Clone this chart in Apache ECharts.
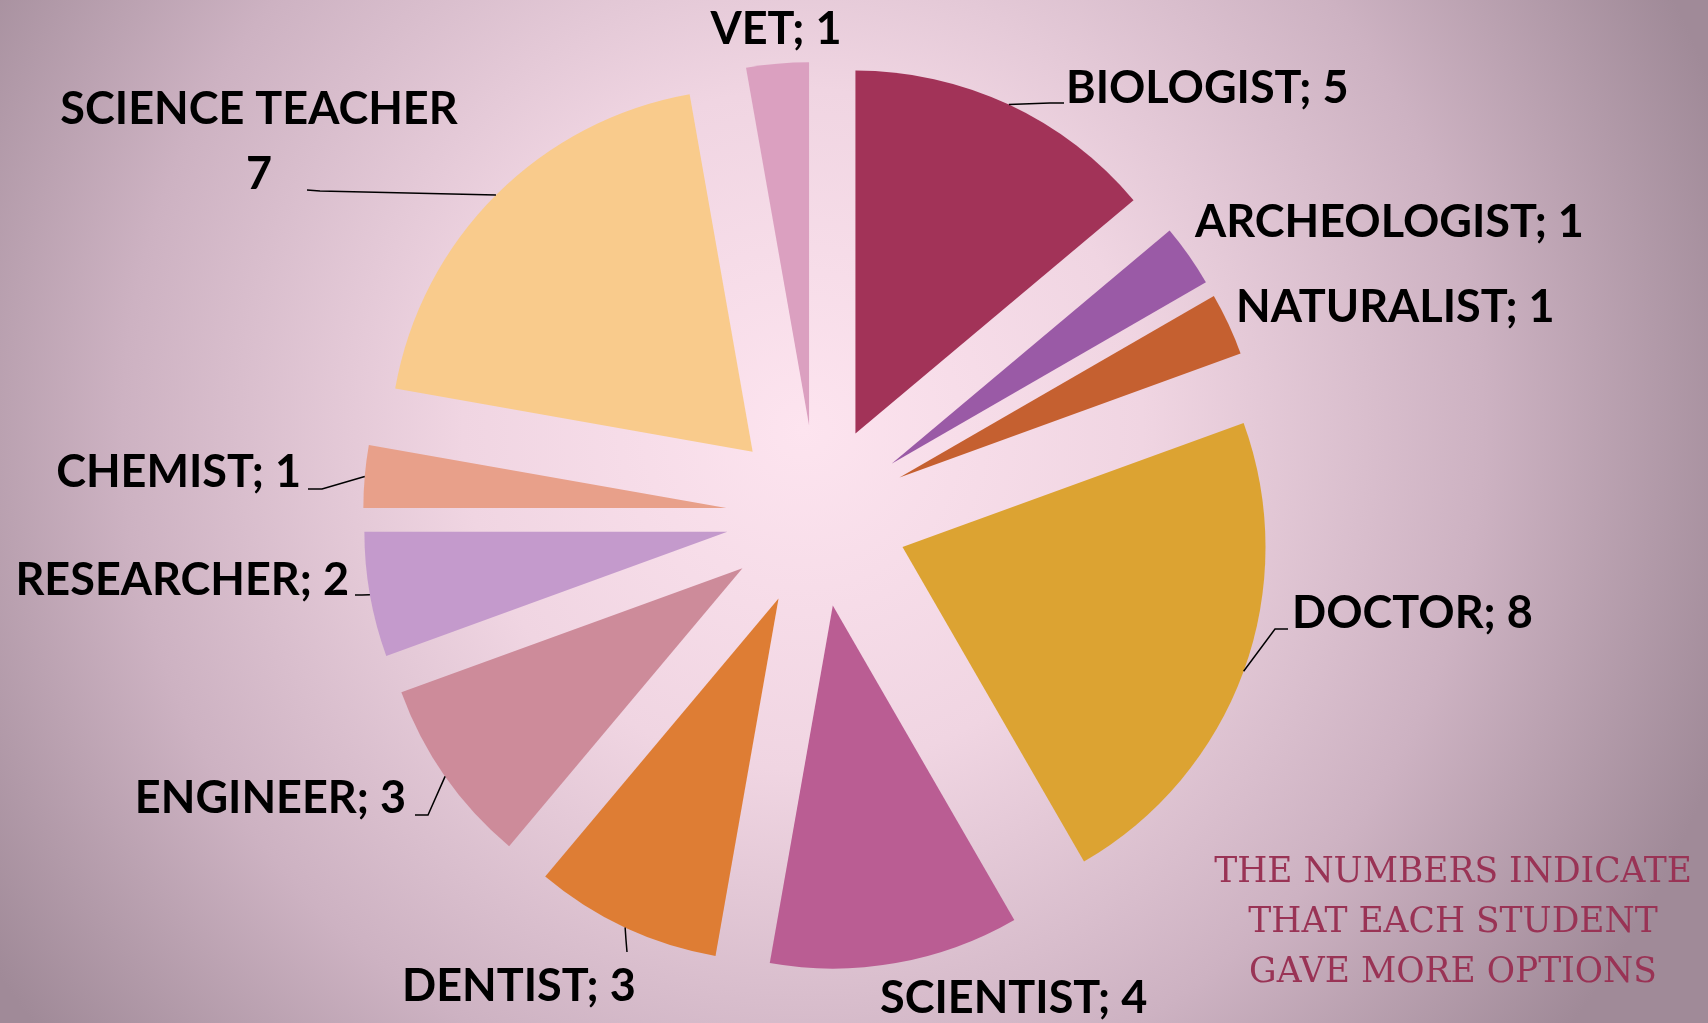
<!DOCTYPE html>
<html>
<head>
<meta charset="utf-8">
<script src="https://cdn.jsdelivr.net/npm/echarts@6/dist/echarts.min.js"></script>
<style>
    html, body { margin: 0; padding: 0; }
    #chart { width: 1708px; height: 1023px; }
</style>
</head>
<body>
<div id="chart"></div>
<script>
// careers the students picked (clockwise from 12 o'clock)
var careers = ['BIOLOGIST', 'ARCHEOLOGIST', 'NATURALIST', 'DOCTOR', 'SCIENTIST', 'DENTIST',
    'ENGINEER', 'RESEARCHER', 'CHEMIST', 'SCIENCE TEACHER', 'VET'];
var answers = [5, 1, 1, 8, 4, 3, 3, 2, 1, 7, 1];
var sliceColors = ['#a23358', '#9a5aa6', '#c56030', '#dca332', '#ba5d93', '#de7d34',
    '#cd8b9a', '#c49acc', '#e8a08a', '#f9cb8c', '#dba0c0'];
var noteLines = ['THE NUMBERS INDICATE', 'THAT EACH STUDENT', 'GAVE MORE OPTIONS'];

// pie geometry
var pieCenter = [817, 516];
var pieRadius = 363;
var explode = 91;

// label anchor [x, y, align]
var labelSpots = [
    [1066, 88, 'left'],
    [1195, 222, 'left'],
    [1236, 307, 'left'],
    [1292, 613, 'left'],
    [880, 998, 'left'],
    [402, 986, 'left'],
    [406, 798, 'right'],
    [349, 580, 'right'],
    [301, 472, 'right'],
    [259, 142, 'center'],
    [776, 29, 'center']
];
// leader lines: [elbowX, elbowY, endX, endY], null = no line
var leaders = [
    [1050, 103, 1064, 103],
    null,
    null,
    [1275, 629, 1288, 629],
    null,
    [626, 940, 627, 952],
    [428, 815, 415, 815],
    [362, 595, 355, 595],
    [322, 489, 308, 489],
    [320, 191, 307, 190],
    null
];

var total = answers.reduce(function (a, b) { return a + b; }, 0);

// point on the outer edge of the exploded slice, along its middle
function sliceTip(i) {
    var before = 0;
    for (var k = 0; k < i; k++) before += answers[k];
    var mid = (before + answers[i] / 2) / total * Math.PI * 2;
    var d = pieRadius + explode;
    return [pieCenter[0] + d * Math.sin(mid), pieCenter[1] - d * Math.cos(mid)];
}

var chartDom = document.getElementById('chart');
var myChart = echarts.init(chartDom);
var option;

var sliceData = careers.map(function (name, i) {
    return {
        name: name,
        value: answers[i],
        selected: true,
        itemStyle: { color: sliceColors[i] }
    };
});

var labelData = careers.map(function (name, i) {
    return {
        name: name,
        value: answers[i],
        labelLine: { show: leaders[i] !== null }
    };
});

option = {
    backgroundColor: {
        type: 'radial',
        x: 0.47,
        y: 0.42,
        r: 0.95,
        colorStops: [
            { offset: 0, color: '#fde4ef' },
            { offset: 0.35, color: '#f0d5e2' },
            { offset: 0.7, color: '#cdb2c2' },
            { offset: 1, color: '#a08a98' }
        ]
    },
    title: {
        text: noteLines.join('\n'),
        left: 1448,
        top: 843,
        textAlign: 'center',
        textStyle: {
            fontFamily: 'DejaVu Serif',
            fontWeight: 'normal',
            fontSize: 34.5,
            lineHeight: 50,
            color: '#993355'
        }
    },
    series: [
        {
            // exploded slices
            type: 'pie',
            center: pieCenter,
            radius: [0, pieRadius],
            startAngle: 90,
            clockwise: true,
            selectedMode: 'multiple',
            selectedOffset: explode,
            animation: false,
            silent: true,
            emphasis: { scale: false },
            label: { show: false },
            labelLine: { show: false },
            data: sliceData
        },
        {
            // labels and leader lines
            type: 'pie',
            center: pieCenter,
            radius: [0, pieRadius],
            startAngle: 90,
            clockwise: true,
            selectedMode: false,
            avoidLabelOverlap: false,
            animation: false,
            silent: true,
            z: 3,
            itemStyle: { color: 'rgba(0,0,0,0)', borderWidth: 0 },
            emphasis: { disabled: true },
            data: labelData,
            label: {
                show: true,
                position: 'outside',
                fontFamily: 'Lato',
                fontWeight: 'bold',
                fontSize: 45,
                lineHeight: 65,
                color: '#000',
                formatter: function (p) {
                    if (p.name === 'SCIENCE TEACHER') {
                        return p.name + '\n' + p.value;
                    }
                    return p.name + '; ' + p.value;
                }
            },
            labelLine: {
                lineStyle: { color: '#000', width: 1.5 }
            },
            labelLayout: function (params) {
                var i = params.dataIndex;
                var s = labelSpots[i];
                var out = {
                    x: s[0],
                    y: s[1],
                    align: s[2],
                    verticalAlign: 'middle'
                };
                var ld = leaders[i];
                if (ld) {
                    out.labelLinePoints = [sliceTip(i), [ld[0], ld[1]], [ld[2], ld[3]]];
                }
                return out;
            }
        }
    ]
};

option && myChart.setOption(option);
</script>
</body>
</html>
